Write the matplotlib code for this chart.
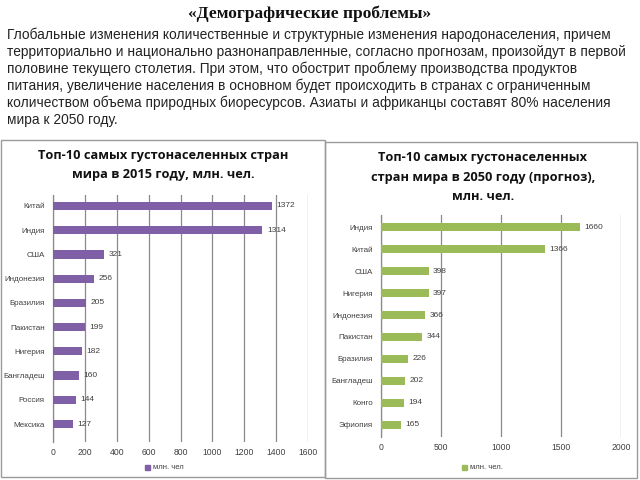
import matplotlib
matplotlib.use("Agg")
import matplotlib.pyplot as plt
from matplotlib.patches import Rectangle

countries_2015 = ["Китай", "Индия", "США", "Индонезия", "Бразилия", "Пакистан",
                  "Нигерия", "Бангладеш", "Россия", "Мексика"]
values_2015 = [1372, 1314, 321, 256, 205, 199, 182, 160, 144, 127]

countries_2050 = ["Индия", "Китай", "США", "Нигерия", "Индонезия", "Пакистан",
                  "Бразилия", "Бангладеш", "Конго", "Эфиопия"]
values_2050 = [1660, 1366, 398, 397, 366, 344, 226, 202, 194, 165]

ticks_2015 = [0, 200, 400, 600, 800, 1000, 1200, 1400, 1600]
ticks_2050 = [0, 500, 1000, 1500, 2000]

title_text = "«Демографические проблемы»"
body_lines = [
    "Глобальные изменения количественные и структурные изменения народонаселения, причем",
    "территориально и национально разнонаправленные, согласно прогнозам, произойдут в первой",
    "половине текущего столетия. При этом, что обострит проблему производства продуктов",
    "питания, увеличение населения в основном будет происходить в странах с ограниченным",
    "количеством объема природных биоресурсов. Азиаты и африканцы составят 80% населения",
    "мира к 2050 году.",
]

W, H = 640, 480
fig = plt.figure(figsize=(6.4, 4.8), dpi=100)
fig.patch.set_facecolor("white")

def fx(x): return x / W
def fy(y): return 1 - y / H

fig.text(fx(310), fy(14), title_text, ha="center", va="center",
         family="Liberation Serif", fontweight="bold", fontsize=12.5, color="#111111")
for i, line in enumerate(body_lines):
    fig.text(fx(7), fy(35 + i * 17), line, ha="left", va="center",
             family="Liberation Sans", fontsize=9.95, color="#222222")

# panel borders
fig.add_artist(Rectangle((fx(1), fy(477)), fx(324), (477 - 140) / H,
                         transform=fig.transFigure, fill=False, ec="#9a9a9a", lw=1))
fig.add_artist(Rectangle((fx(325), fy(478)), fx(312), (478 - 142) / H,
                         transform=fig.transFigure, fill=False, ec="#9a9a9a", lw=1))

def panel(rect, cats, vals, ticks, color, title, title_x, title_ys, ylim, bh, leg_x, leg_label):
    ax = fig.add_axes(rect)
    y = list(range(len(cats)))
    ax.barh(y, vals, height=bh, color=color, zorder=3)
    ax.set_ylim(*ylim)
    ax.set_xlim(ticks[0], ticks[-1])
    ax.set_xticks(ticks)
    ax.set_yticks(y)
    ax.set_yticklabels(cats, family="Liberation Sans", fontsize=5.8, color="#404040")
    ax.set_xticklabels([str(t) for t in ticks], family="Liberation Sans", fontsize=6.2, color="#404040")
    ax.tick_params(axis="both", length=0, pad=4)
    ax.tick_params(axis="y", pad=6)
    ax.grid(axis="x", color="#8a8a8a", lw=0.9, zorder=0)
    for s in ["top", "right", "bottom"]:
        ax.spines[s].set_visible(False)
    ax.spines["left"].set_color("#8a8a8a")
    ax.spines["left"].set_linewidth(0.9)
    span = ticks[-1] - ticks[0]
    for yi, v in zip(y, vals):
        ax.text(v + span * 0.018, yi, str(v), va="center", ha="left",
                family="Liberation Sans", fontsize=6.0, color="#404040", zorder=4)
    for line, ty in zip(title, title_ys):
        fig.text(fx(title_x), fy(ty), line, ha="center", va="center",
                 family="Open Sans", fontweight="bold", fontsize=9.2, color="#111111")
    fig.add_artist(Rectangle((fx(leg_x), fy(470)), fx(5), 5 / H,
                             transform=fig.transFigure, color=color))
    fig.text(fx(leg_x + 8), fy(467.5), leg_label, ha="left", va="center",
             family="Liberation Sans", fontsize=5.5, color="#404040")
    return ax

panel([fx(53), fy(442), fx(255), 247 / H], countries_2015, values_2015, ticks_2015,
      "#7f5fa6", ["Топ-10 самых густонаселенных стран", "мира в 2015 году, млн. чел."],
      163, [155, 175], (9.74, -0.45), 0.34, 145, "млн. чел")

panel([fx(381), fy(437), fx(240), 222 / H], countries_2050, values_2050, ticks_2050,
      "#9bbb59", ["Топ-10 самых густонаселенных", "стран мира в 2050 году (прогноз),", "млн. чел."],
      483, [158, 178, 197], (9.55, -0.55), 0.36, 462, "млн. чел.")

fig.savefig("out.png", dpi=100, facecolor="white")
